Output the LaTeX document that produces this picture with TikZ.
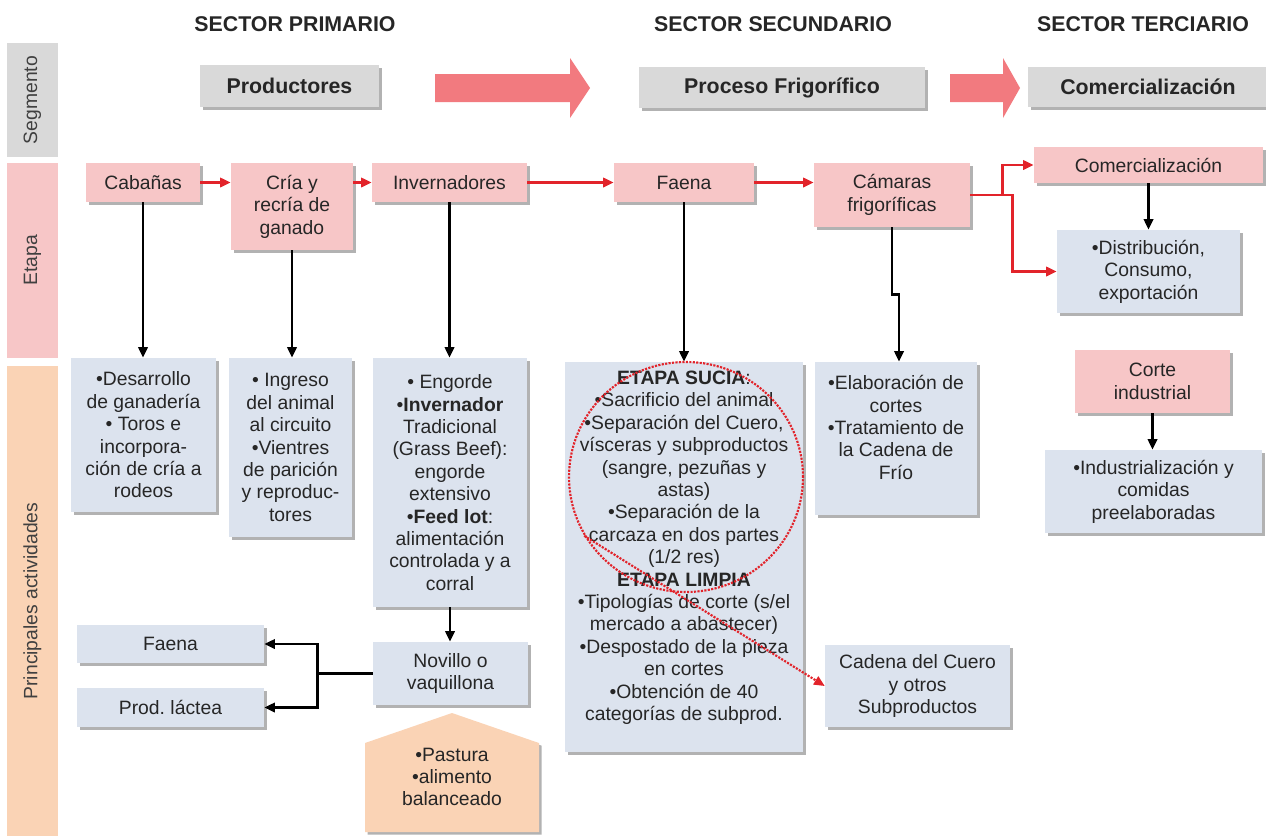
\documentclass[tikz,border=0pt]{standalone}
\usepackage{fontspec}
\setmainfont{Liberation Sans}
\usetikzlibrary{positioning,arrows.meta,shadows,shapes.geometric,calc}
\definecolor{cSeg}{HTML}{D9D9D9}
\definecolor{cEtapa}{HTML}{F7C6C7}
\definecolor{cAct}{HTML}{DCE3EE}
\definecolor{cInsumo}{HTML}{FAD3B5}
\definecolor{cFlecha}{HTML}{F27A7F}
\definecolor{cRojo}{HTML}{E2232A}
\definecolor{cTexto}{HTML}{262626}
\definecolor{cLado}{HTML}{404040}
\newdimen\px \px=0.75pt
\tikzset{
  txt/.style={inner sep=2pt, align=center, text=cTexto,
              font=\fontsize{14.5}{16.8}\selectfont},
  sombra/.style={drop shadow={shadow xshift=2pt, shadow yshift=-2pt, fill=black, opacity=0.3}},
  blk/.style={txt, sombra},
  seg/.style={blk, fill=cSeg, font=\fontsize{16}{19}\selectfont\bfseries},
  etapa/.style={blk, fill=cEtapa},
  act/.style={blk, fill=cAct},
  insumo/.style={fill=cInsumo, sombra},
  sector/.style={font=\fontsize{16}{19}\selectfont\bfseries, text=cTexto},
  barra/.style={rotate=90, minimum height=51\px, inner sep=0pt, text=cLado,
                font=\fontsize{14.5}{16.8}\selectfont},
  flecha/.style={fill=cFlecha},
  circrojo/.style={ellipse, draw=cRojo, densely dotted, line width=1.6pt, inner sep=0pt},
  ar/.style={-{Triangle[length=8pt,width=7pt]}, line width=1.9pt, black},
  arr/.style={-{Triangle[length=8pt,width=7pt]}, line width=1.9pt, cRojo},
  punteada/.style={-{Triangle[length=8pt,width=7pt]}, densely dotted, line width=1.6pt, cRojo},
}

\begin{document}
\begin{tikzpicture}[x=0.75pt, y=-0.75pt]
  \useasboundingbox (0,0) rectangle (1266,836);

  % sectores
  \node[sector] (hprim) at (295,24) {SECTOR PRIMARIO};
  \node[sector] (hsec) at (773,24) {SECTOR SECUNDARIO};
  \node[sector] (hter) at (1143,24) {SECTOR TERCIARIO};

  % barras laterales
  \node[barra, fill=cSeg, minimum width=114\px] (bseg) at (32.5,100) {Segmento};
  \node[barra, fill=cEtapa, minimum width=195\px] (beta) at (32.5,260.5) {Etapa};
  \node[barra, fill=cInsumo, minimum width=470\px] (bact) at (32.5,601) {Principales actividades};

  % segmento
  \node[seg, minimum width=179\px, minimum height=42\px] (prod) at (289.5,86) {Productores};
  \node[seg, minimum width=286\px, minimum height=41\px] (proc) at (782,87.5) {Proceso Frigorífico};
  \node[seg, minimum width=240\px, minimum height=40\px] (comseg) at (1148,87) {Comercialización};
  \fill[flecha] (435,74) -- (570,74) -- (570,58) -- (590,88) -- (570,118) -- (570,102) -- (435,102) -- cycle;
  \fill[flecha] (950,74) -- (1003,74) -- (1003,58) -- (1020,88) -- (1003,118) -- (1003,102) -- (950,102) -- cycle;

  % etapas
  \node[etapa, minimum width=114\px, minimum height=39\px] (cab) at (143,182.5) {Cabañas};
  \node[etapa, minimum width=122\px, minimum height=87\px] (cria) at (292,206.5) {Cría y\\recría de\\ganado};
  \node[etapa, minimum width=155\px, minimum height=39\px] (inv) at (449.5,182.5) {Invernadores};
  \node[etapa, minimum width=140\px, minimum height=39\px] (fae) at (684,182.5) {Faena};
  \node[etapa, minimum width=156\px, minimum height=64\px] (cam) at (892,195) {Cámaras\\frigoríficas};
  \node[etapa, minimum width=229\px, minimum height=36\px] (com) at (1148.5,165) {Comercialización};
  \node[act, minimum width=183\px, minimum height=83\px] (dist) at (1148.5,271.5) {•Distribución,\\Consumo,\\exportación};

  % actividades
  \node[act, minimum width=145\px, minimum height=154\px] (desa) at (143.5,435)
    {•Desarrollo\\de ganadería\\• Toros e\\incorpora-\\ción de cría a\\rodeos};
  \node[act, minimum width=123\px, minimum height=179\px] (ingr) at (290.5,447.5)
    {• Ingreso\\del animal\\al circuito\\•Vientres\\de parición\\y reproduc-\\tores};
  \node[act, minimum width=154\px, minimum height=249\px] (engo) at (450,482.5)
    {• Engorde\\•\textbf{Invernador}\\Tradicional\\(Grass Beef):\\engorde\\extensivo\\•\textbf{Feed lot}:\\alimentación\\controlada y a\\corral};
  \node[act, minimum width=238\px, minimum height=390\px] (sucia) at (684,557)
    {\textbf{ETAPA SUCIA}:\\•Sacrificio del animal\\•Separación del Cuero,\\vísceras y subproductos\\(sangre, pezuñas y\\astas)\\•Separación de la\\carcaza en dos partes\\(1/2 res)\\\textbf{ETAPA LIMPIA}\\•Tipologías de corte (s/el\\mercado a abastecer)\\•Despostado de la pieza\\en cortes\\•Obtención de 40\\categorías de subprod.\\\mbox{}};
  \node[act, minimum width=162\px, minimum height=153\px] (elab) at (896,438.5)
    {•Elaboración de\\cortes\\•Tratamiento de\\la Cadena de\\Frío\\\mbox{}};
  \node[etapa, minimum width=155\px, minimum height=63\px] (corte) at (1152.5,381.5) {Corte\\industrial};
  \node[act, minimum width=217\px, minimum height=83\px] (indu) at (1153.5,491.5)
    {•Industrialización y\\comidas\\preelaboradas};
  \node[act, minimum width=185\px, minimum height=82\px] (cuero) at (917.5,686)
    {Cadena del Cuero\\y otros\\Subproductos};
  \node[act, minimum width=155\px, minimum height=63\px] (nov) at (450.5,673.5) {Novillo o\\vaquillona};
  \node[act, minimum width=187\px, minimum height=38\px] (faeb) at (170.5,644) {Faena};
  \node[act, minimum width=187\px, minimum height=39\px] (lact) at (170.5,707.5) {Prod.\ láctea};
  \fill[insumo] (365,743) -- (452,713) -- (539,743) -- (539,832) -- (365,832) -- cycle;
  \node[txt] (pastura) at (452,777) {•Pastura\\•alimento\\balanceado};

  % flujo principal
  \draw[arr] (cab.east) -- (cab.east -| cria.west);
  \draw[arr] (inv.west -| cria.east) -- (inv.west);
  \draw[arr] (inv.east) -- (fae.west);
  \draw[arr] (fae.east) -- (fae.east -| cam.west);
  \draw[arr] (cam.east) -- ++(32,0) |- (com.west);
  \draw[arr] (cam.east) -- ++(42,0) |- (dist.west);

  % bajadas
  \draw[ar] (cab.south) -- (cab.south |- desa.north);
  \draw[ar] (cria.south) -- (cria.south |- ingr.north);
  \draw[ar] (inv.south) -- (inv.south |- engo.north);
  \draw[ar] (fae.south) -- (fae.south |- sucia.north);
  \draw[ar] (cam.south) -- ++(0,67) -| ($(elab.north)+(3,0)$);
  \draw[ar] (com.south) -- (com.south |- dist.north);
  \draw[ar] (corte.south) -- (corte.south |- indu.north);
  \draw[ar] (engo.south) -- (engo.south |- nov.north);
  \draw[line width=1.9pt] (nov.west) -- ++(-55,0) coordinate (split);
  \draw[ar] (split) |- (faeb.east);
  \draw[ar] (split) |- (lact.east);

  % etapa sucia marcada
  \node[circrojo, minimum width=234\px, minimum height=230\px] (circulo) at (686,477) {};
  \draw[punteada] (circulo.-150) -- (cuero.west);
\end{tikzpicture}
\end{document}
